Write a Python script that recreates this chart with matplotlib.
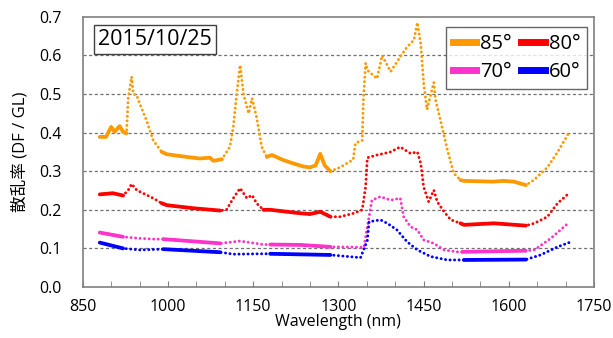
import matplotlib.pyplot as plt
import numpy as np

plt.rcParams['font.family'] = ['Open Sans', 'Noto Sans CJK JP', 'DejaVu Sans']

# 85 deg
wl_85 = [880, 891, 900, 906, 915, 921, 927, 930, 936, 939, 945, 950, 962, 974, 989,
         998, 1033, 1056, 1074, 1080, 1095, 1109, 1115, 1121, 1127, 1133, 1142, 1148,
         1156, 1165, 1174, 1183, 1203, 1221, 1239, 1250, 1260, 1268, 1276, 1286,
         1303, 1326, 1330, 1342, 1344, 1348, 1351, 1368, 1377, 1392, 1409, 1421, 1433,
         1439, 1445, 1450, 1456, 1468, 1471, 1480, 1492, 1503, 1515, 1521, 1573, 1590,
         1609, 1630, 1644, 1668, 1686, 1706]
val_85 = [0.389, 0.389, 0.415, 0.402, 0.417, 0.402, 0.398, 0.49, 0.545, 0.50, 0.497,
          0.476, 0.433, 0.38, 0.35, 0.344, 0.337, 0.333, 0.335, 0.327, 0.331, 0.363,
          0.415, 0.50, 0.575, 0.50, 0.45, 0.489, 0.44, 0.363, 0.337, 0.342, 0.329,
          0.32, 0.312, 0.31, 0.315, 0.345, 0.315, 0.30, 0.31, 0.33, 0.373, 0.38, 0.485,
          0.58, 0.562, 0.54, 0.60, 0.558, 0.597, 0.622, 0.64, 0.685, 0.63, 0.53, 0.46,
          0.53, 0.485, 0.43, 0.355, 0.295, 0.277, 0.275, 0.273, 0.275, 0.273, 0.264,
          0.277, 0.31, 0.35, 0.40]
solid_85 = [(880, 927), (989, 1095), (1174, 1286), (1515, 1630)]

# 80 deg
wl_80 = [880, 903, 921, 930, 936, 945, 956, 974, 989, 998, 1045, 1092, 1103, 1115,
         1127, 1139, 1148, 1156, 1168, 1180, 1233, 1250, 1268, 1286, 1303, 1327, 1342,
         1348, 1351, 1368, 1392, 1409, 1427, 1439, 1445, 1450, 1459, 1468, 1474, 1486,
         1498, 1515, 1521, 1574, 1630, 1645, 1668, 1686, 1706]
val_80 = [0.24, 0.243, 0.237, 0.251, 0.267, 0.251, 0.243, 0.23, 0.217, 0.212, 0.204,
          0.198, 0.20, 0.23, 0.256, 0.23, 0.238, 0.217, 0.20, 0.20, 0.191, 0.189, 0.195,
          0.182, 0.182, 0.191, 0.20, 0.26, 0.335, 0.342, 0.35, 0.363, 0.346, 0.35,
          0.32, 0.26, 0.221, 0.251, 0.221, 0.195, 0.174, 0.165, 0.161, 0.165, 0.159,
          0.165, 0.182, 0.217, 0.243]
solid_80 = [(880, 921), (989, 1092), (1168, 1286), (1515, 1630)]

# 70 deg
wl_70 = [880, 921, 950, 974, 992, 1092, 1127, 1168, 1180, 1233, 1286, 1345, 1351,
         1359, 1374, 1392, 1409, 1415, 1427, 1439, 1450, 1468, 1486, 1509, 1518, 1630,
         1645, 1674, 1706]
val_70 = [0.141, 0.13, 0.126, 0.124, 0.124, 0.113, 0.119, 0.11, 0.11, 0.109, 0.104,
          0.103, 0.156, 0.225, 0.234, 0.225, 0.23, 0.182, 0.156, 0.148, 0.122, 0.113,
          0.096, 0.091, 0.091, 0.094, 0.096, 0.126, 0.167]
solid_70 = [(880, 921), (992, 1092), (1180, 1286), (1518, 1630)]

# 60 deg
wl_60 = [880, 921, 950, 992, 1092, 1115, 1168, 1180, 1286, 1339, 1351, 1354, 1374,
         1386, 1403, 1421, 1439, 1462, 1492, 1512, 1521, 1630, 1656, 1686, 1706]
val_60 = [0.115, 0.10, 0.096, 0.098, 0.09, 0.085, 0.086, 0.086, 0.083, 0.076, 0.121,
          0.169, 0.174, 0.165, 0.148, 0.117, 0.096, 0.079, 0.07, 0.07, 0.07, 0.071,
          0.083, 0.104, 0.115]
solid_60 = [(880, 921), (992, 1092), (1180, 1286), (1521, 1630)]

series = [
    ('85°', wl_85, val_85, solid_85, '#FF9900'),
    ('80°', wl_80, val_80, solid_80, '#FF0000'),
    ('70°', wl_70, val_70, solid_70, '#FF33CC'),
    ('60°', wl_60, val_60, solid_60, '#0000FF'),
]

fig = plt.figure(figsize=(6.13, 3.38), dpi=100)
ax = fig.add_axes([0.135, 0.151, 0.834, 0.799])

handles = {}
for label, wl, val, solid, color in series:
    wl = np.array(wl)
    val = np.array(val)
    ax.plot(wl, val, color=color, lw=2.1, linestyle=(0, (0.05, 1.5)),
            dash_capstyle='round')
    for lo, hi in solid:
        m = (wl >= lo) & (wl <= hi)
        ax.plot(wl[m], val[m], color=color, lw=2.7, solid_capstyle='round')
    handles[label], = ax.plot([], [], color=color, lw=5, label=label)

ax.set_xlim(850, 1750)
ax.set_ylim(0, 0.7)
ax.set_xticks(np.arange(850, 1751, 150))
ax.set_xticks(np.arange(850, 1751, 50), minor=True)
ax.set_yticks(np.arange(0, 0.71, 0.1))
ax.set_yticklabels(['%.1f' % v for v in np.arange(0, 0.71, 0.1)])
ax.tick_params(axis='x', which='both', direction='in', length=4, color='#808080',
               labelsize=11.5, pad=9)
ax.tick_params(axis='y', length=0, labelsize=11.5, pad=15)
for v in np.arange(0.1, 0.65, 0.1):
    ax.axhline(v, color='#707070', lw=0.9, linestyle=(0, (2.5, 2)), zorder=0)
for s in ax.spines.values():
    s.set_color('#808080')
    s.set_linewidth(1.2)

ax.set_xlabel('Wavelength (nm)', fontsize=11.5, labelpad=-1)
ax.set_ylabel('散乱率 (DF / GL)', fontsize=12, labelpad=8)

ax.text(0.03, 0.955, '2015/10/25', transform=ax.transAxes, fontsize=15.5,
        va='top', ha='left',
        bbox=dict(boxstyle='square,pad=0.2', fc='white', ec='#404040', lw=1))

order = ['85°', '70°', '80°', '60°']
leg = ax.legend([handles[k] for k in order], order, ncol=2, loc='upper right',
                bbox_to_anchor=(0.987, 0.963), borderaxespad=0, fontsize=14.5,
                frameon=True, fancybox=False, handlelength=1.15,
                handletextpad=0.2, columnspacing=0.5, borderpad=0.35,
                labelspacing=0.4)
leg.get_frame().set_edgecolor('#404040')
leg.get_frame().set_linewidth(1)

fig.savefig('out.png', dpi=100)
